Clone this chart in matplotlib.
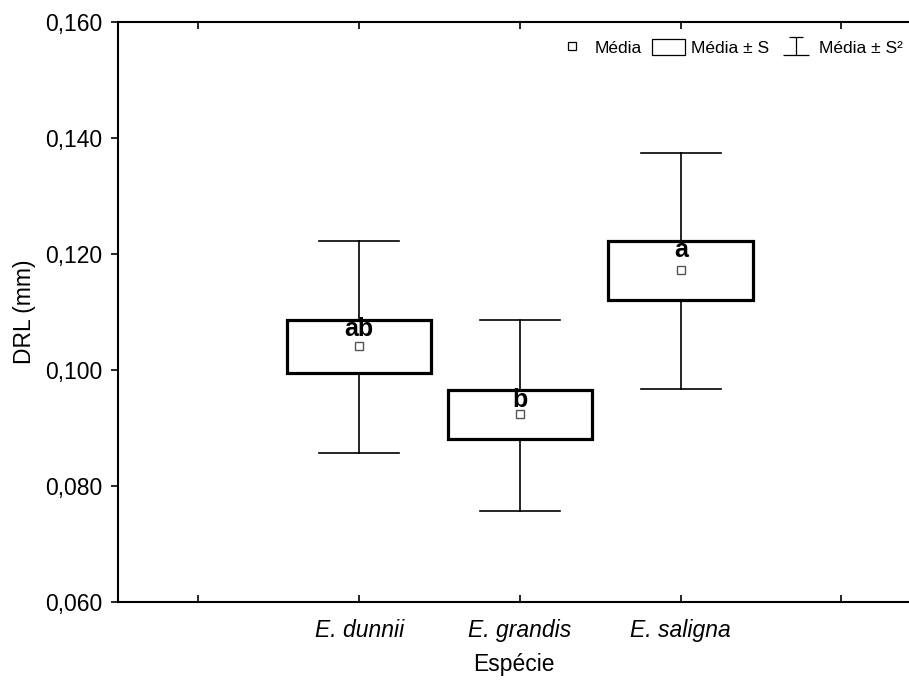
import numpy as np
import matplotlib
matplotlib.use('Agg')
import matplotlib.pyplot as plt
from matplotlib.patches import Rectangle
from matplotlib.lines import Line2D
from matplotlib.path import Path
from matplotlib.ticker import FuncFormatter

plt.rcParams['font.family'] = ['Liberation Sans', 'DejaVu Sans']

# data
species = ['E. dunnii', 'E. grandis', 'E. saligna']
means = [0.1041, 0.0924, 0.1172]
box_lo = [0.0995, 0.0881, 0.1121]
box_hi = [0.1087, 0.0965, 0.1223]
whisk_lo = [0.0857, 0.0757, 0.0967]
whisk_hi = [0.1223, 0.1087, 0.1374]
letters = ['ab', 'b', 'a']

positions = [1, 2, 3]
box_w = 0.9
cap_w = 0.5
FS = 16.5

fig = plt.figure(figsize=(9.09, 6.81), dpi=100)
ax = fig.add_axes([0.1298, 0.116, 0.8702, 0.8517])

for x, m, lo, hi, wl, wh, let in zip(positions, means, box_lo, box_hi,
                                     whisk_lo, whisk_hi, letters):
    # whiskers
    ax.plot([x, x], [hi, wh], color='black', lw=1.2, zorder=2)
    ax.plot([x, x], [wl, lo], color='black', lw=1.2, zorder=2)
    ax.plot([x - cap_w/2, x + cap_w/2], [wh, wh], color='black', lw=1.2)
    ax.plot([x - cap_w/2, x + cap_w/2], [wl, wl], color='black', lw=1.2)
    # box
    ax.add_patch(Rectangle((x - box_w/2, lo), box_w, hi - lo,
                           facecolor='white', edgecolor='black', lw=2.3,
                           zorder=3))
    ax.plot(x, m, marker='s', ms=6, mfc='white', mec='#555555', mew=1.0,
            zorder=4)
    ax.text(x, hi + 0.0004, let, ha='center', va='top', fontsize=18,
            fontweight='bold', zorder=5)

ax.set_xlim(-0.5, 4.42)
ax.set_ylim(0.060, 0.160)
ax.set_yticks([0.060, 0.080, 0.100, 0.120, 0.140, 0.160])
ax.yaxis.set_major_formatter(FuncFormatter(lambda v, p: f'{v:.3f}'.replace('.', ',')))
ax.set_xticks([0, 1, 2, 3, 4])
ax.set_xticklabels([''] + species + [''], fontstyle='italic', fontsize=FS)
ax.tick_params(axis='y', labelsize=FS, direction='out', length=5, width=1.2,
               pad=6)
ax.tick_params(axis='x', direction='in', length=5, width=1.2, top=True,
               pad=12)
ax.spines['right'].set_visible(False)
for s in ['left', 'top', 'bottom']:
    ax.spines[s].set_linewidth(1.5)

ax.set_ylabel('DRL (mm)', fontsize=FS, labelpad=7)
ax.set_xlabel('Espécie', fontsize=FS, labelpad=8)

# legend
whisk_path = Path([(-0.5, 0.6), (0.5, 0.6), (0, 0.6), (0, -0.6), (-0.9, -0.6), (0.9, -0.6)],
                  [Path.MOVETO, Path.LINETO, Path.MOVETO, Path.LINETO, Path.MOVETO, Path.LINETO])
handles = [
    Line2D([], [], ls='none', marker='s', ms=6, mfc='white', mec='black', mew=0.9),
    Rectangle((0, 0), 1, 1, facecolor='white', edgecolor='black', lw=0.9),
    Line2D([], [], ls='none', marker=whisk_path, ms=19, mfc='none', mec='black', mew=0.9),
]
ax.legend(handles, ['Média', 'Média ± S', 'Média ± S²'], loc='upper right',
          ncol=3, frameon=False, fontsize=12.5, handlelength=1.9,
          handletextpad=0.35, columnspacing=0.6, handleheight=1.0,
          bbox_to_anchor=(1.012, 0.997))

fig.savefig('out.png', dpi=100)
